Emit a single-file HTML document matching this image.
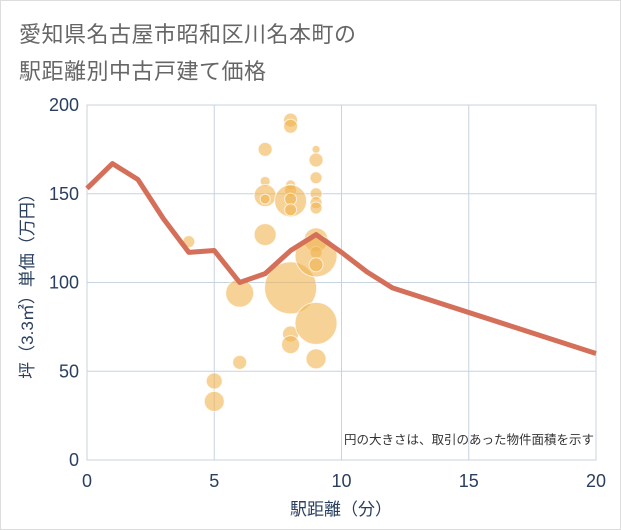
<!DOCTYPE html>
<html><head><meta charset="utf-8"><style>
body{margin:0;background:#fff;font-family:"Liberation Sans","Noto Sans CJK JP",sans-serif}
#wrap{position:relative;width:619px;height:528px;border:1px solid #ddd;background:#fff}
.t{position:absolute;left:18px;font-size:22px;color:#666;letter-spacing:0.5px}
</style></head><body>
<div id="wrap">
<div class="t" style="top:16px">愛知県名古屋市昭和区川名本町の</div>
<div class="t" style="top:53px">駅距離別中古戸建て価格</div>
<svg id="svg" width="621" height="530" style="position:absolute;left:-1px;top:-1px"></svg>
</div>
<script>
const xTicks=[0,5,10,15,20];
const yTicks=[0,50,100,150,200];
const lineX=[0,1,2,3,4,5,6,7,8,9,10,11,12,20];
const lineY=[153,167,158,136,117,118,100,105,118,127,117,106,97,60];
const bubX=[4,5,5,6,6,7,7,7,7,7,8,8,8,8,8,8,8,8,8,8,9,9,9,9,9,9,9,9,9,9,9,9];
const bubY=[123,44.5,33,94,55,175,157,149,147,127,191.5,188,155,152,146,147,141,97,71,65,175,169,159,150,145,142,124,117,115,110,77,57];
const bubR=[6,8,10,14,7,7,5,11,5,11,7,7,5,6,16,6,6,26,8,9,4,7,6,6,6,6,12,6,21,7,21,10];
const NS="http://www.w3.org/2000/svg";
const svg=document.getElementById('svg');
const L=87,R=596,T=105,B=460;
const sx=v=>L+(v-0)/20*(R-L);
const sy=v=>B-(v/200)*(B-T);
function mk(tag,attrs,name){const e=document.createElementNS(NS,tag);for(const k in attrs)e.setAttribute(k,attrs[k]);


svg.appendChild(e);return e;}
mk('rect',{x:L,y:T,width:R-L,height:B-T,fill:'#fff',stroke:'#c8d3e0'},'plot-area');
xTicks.forEach(v=>{mk('line',{x1:sx(v),x2:sx(v),y1:T,y2:B,stroke:'#c8d3e0'},'x-gridline');
const t=mk('text',{x:sx(v),y:B+27,'text-anchor':'middle','font-size':18,fill:'#2a3f5f'},'x-tick-label');t.textContent=v;});
yTicks.forEach(v=>{mk('line',{x1:L,x2:R,y1:sy(v),y2:sy(v),stroke:'#c8d3e0'},'y-gridline');
const t=mk('text',{x:L-8,y:sy(v)+6,'text-anchor':'end','font-size':18,fill:'#2a3f5f'},'y-tick-label');t.textContent=v;});
bubX.forEach((x,i)=>{mk('circle',{cx:sx(x),cy:sy(bubY[i]),r:bubR[i],fill:'rgba(240,180,80,0.6)',stroke:'rgba(255,255,255,0.7)','stroke-width':1},'bubble');});
mk('polyline',{points:lineX.map((x,i)=>sx(x)+','+sy(lineY[i])).join(' '),fill:'none',stroke:'#d4705a','stroke-width':5,'stroke-linejoin':'round'},'price-line');
let t=mk('text',{x:594,y:444,'text-anchor':'end','font-size':12.5,fill:'#333'},'bubble-size-note');t.textContent='円の大きさは、取引のあった物件面積を示す';
t=mk('text',{x:341,y:515,'text-anchor':'middle','font-size':17,fill:'#2a3f5f'},'x-axis-title');t.textContent='駅距離（分）';
t=mk('text',{x:0,y:0,'text-anchor':'middle','font-size':17,fill:'#2a3f5f',transform:'translate(33,282) rotate(-90)'},'y-axis-title');t.textContent='坪（3.3㎡）単価（万円）';
</script>
</body></html>
